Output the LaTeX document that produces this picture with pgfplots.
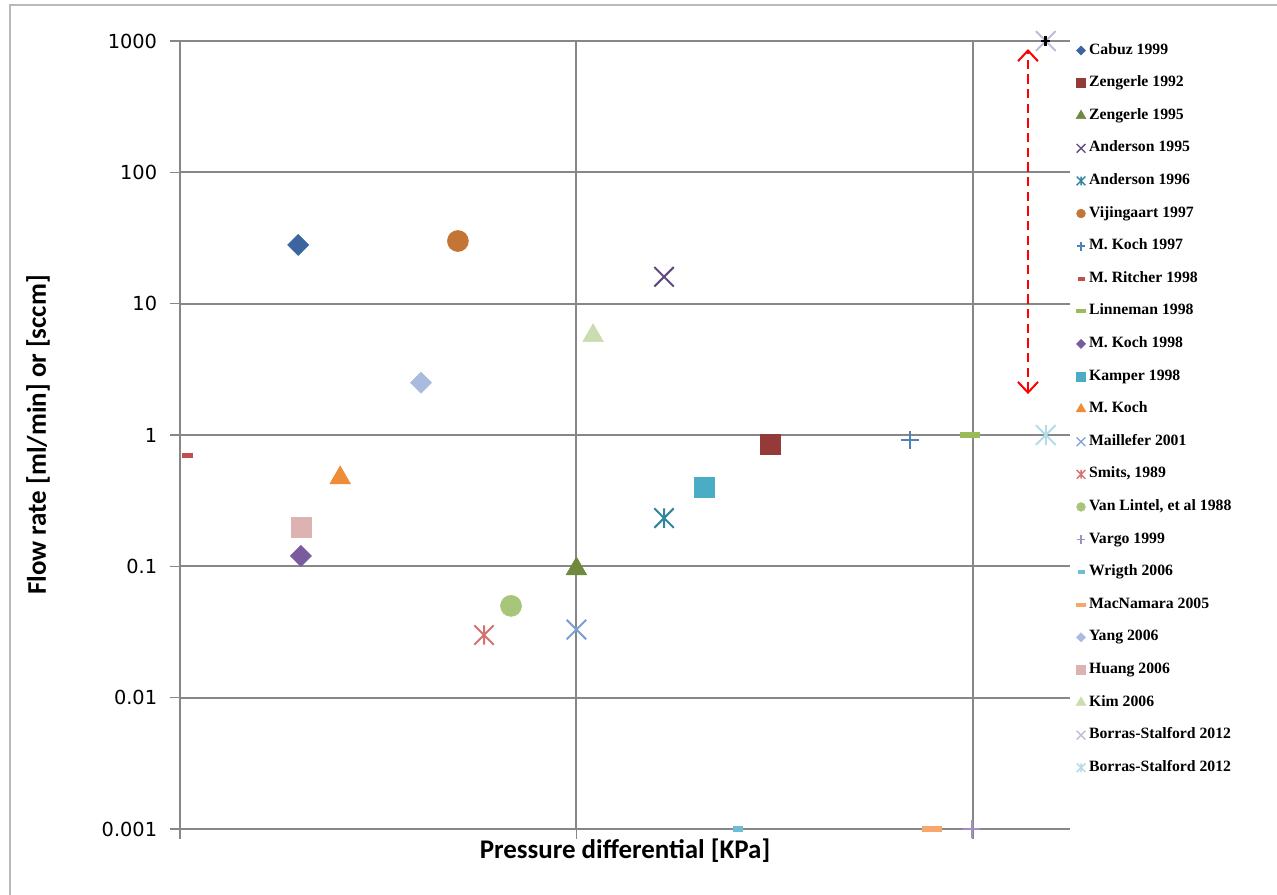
\documentclass[border=0pt]{standalone}
\usepackage{pgfplots}
\pgfplotsset{compat=1.18}
\usepackage{fontspec}
\setmainfont{Liberation Serif}
\newfontfamily\labfont{Carlito}
\newfontfamily\tickfont{DejaVu Sans}
\usetikzlibrary{arrows.meta}
\pgfdeclareplotmark{xstar}{%
  \pgfpathmoveto{\pgfqpoint{-.7071\pgfplotmarksize}{-.7071\pgfplotmarksize}}%
  \pgfpathlineto{\pgfqpoint{.7071\pgfplotmarksize}{.7071\pgfplotmarksize}}%
  \pgfpathmoveto{\pgfqpoint{-.7071\pgfplotmarksize}{.7071\pgfplotmarksize}}%
  \pgfpathlineto{\pgfqpoint{.7071\pgfplotmarksize}{-.7071\pgfplotmarksize}}%
  \pgfpathmoveto{\pgfqpoint{0pt}{-.7071\pgfplotmarksize}}%
  \pgfpathlineto{\pgfqpoint{0pt}{.7071\pgfplotmarksize}}%
  \pgfusepathqstroke}
\definecolor{gridgray}{HTML}{878787}
\definecolor{cA}{HTML}{3C65A0}
\definecolor{cB}{HTML}{943B3A}
\definecolor{cC}{HTML}{71893F}
\definecolor{cD}{HTML}{604A7B}
\definecolor{cE}{HTML}{31859C}
\definecolor{cF}{HTML}{C27535}
\definecolor{cG}{HTML}{4F81BD}
\definecolor{cH}{HTML}{C0504D}
\definecolor{cI}{HTML}{9BBB59}
\definecolor{cJ}{HTML}{7A5C9E}
\definecolor{cK}{HTML}{4BACC6}
\definecolor{cL}{HTML}{EE8C3A}
\definecolor{cM}{HTML}{7D9FD3}
\definecolor{cN}{HTML}{D37371}
\definecolor{cO}{HTML}{A8C67A}
\definecolor{cP}{HTML}{A08FC6}
\definecolor{cQ}{HTML}{6FBCD6}
\definecolor{cR}{HTML}{F9A56E}
\definecolor{cS}{HTML}{A9BCDF}
\definecolor{cT}{HTML}{DDB3B2}
\definecolor{cU}{HTML}{CADCB0}
\definecolor{cV}{HTML}{C2BAD6}
\definecolor{cW}{HTML}{B4DCE6}
\pgfplotsset{
  pdia/.style={only marks, mark=square*, mark options={rotate=45}, mark size=5.6pt},
  psq/.style={only marks, mark=square*, mark size=7.5pt},
  ptri/.style={only marks, mark=triangle*, mark size=9pt},
  pcross/.style={only marks, mark=x, mark size=10.3pt, line width=1.5pt},
  pstar/.style={only marks, mark=xstar, mark size=10.3pt, line width=1.5pt},
  pcirc/.style={only marks, mark=*, mark size=7.9pt},
  pplus/.style={only marks, mark=+, mark size=6.6pt, line width=1.5pt},
  ldia/.style={only marks, mark=square*, mark options={rotate=45}, mark size=2.4pt},
  lsq/.style={only marks, mark=square*, mark size=3.3pt},
  ltri/.style={only marks, mark=triangle*, mark size=4.2pt},
  lcross/.style={only marks, mark=x, mark size=4.6pt, line width=1pt},
  lstar/.style={only marks, mark=xstar, mark size=4.6pt, line width=1.1pt},
  lcirc/.style={only marks, mark=*, mark size=3.3pt},
  lplus/.style={only marks, mark=+, mark size=3.3pt, line width=1pt},
  ldash/.style={only marks, mark=-, mark size=3.6pt, line width=3pt},
}
\begin{document}
\begin{tikzpicture}
\useasboundingbox (-135pt,-49.5pt) rectangle (822.75pt,621.75pt);
\draw[gray!55, line width=1pt] (-127.5pt,-49.5pt) -- (-127.5pt,618pt) -- (822.75pt,618pt);
\begin{axis}[
  at={(0pt,0pt)}, anchor=south west, scale only axis,
  width=667.5pt, height=591pt,
  xmin=0, xmax=2.245, ymode=log, ymin=0.001, ymax=1000,
  xtick={0,1,2}, xticklabels={},
  ytick={0.001,0.01,0.1,1,10,100,1000},
  yticklabels={0.001,0.01,0.1,1,10,100,1000},
  yminorticks=false, xminorticks=false,
  axis lines=left, axis line style={draw=none},
  grid=major, major grid style={draw=gridgray, line width=1.5pt},
  tick align=outside, major tick length=7.5pt,
  tick style={draw=gridgray, line width=1.2pt},
  yticklabel style={font=\tickfont\fontsize{14.5}{16}\selectfont, inner sep=0pt, xshift=-9.5pt},
  xlabel={Pressure differential [KPa]},
  ylabel={Flow rate [ml/min] or [sccm]},
  xlabel style={font=\labfont\bfseries\fontsize{20.2}{22}\selectfont, at={(axis description cs:0.5,-0.0279)}, anchor=center},
  ylabel style={font=\labfont\bfseries\fontsize{20.2}{22}\selectfont, at={(axis description cs:-0.1596,0.5)}, anchor=center},
  clip=false,
  legend style={at={(rel axis cs:1.0064,0.9968)}, anchor=north west, draw=none, fill=none,
    inner sep=0pt, outer sep=0pt, row sep=13.95pt, column sep=2pt,
    font=\bfseries\fontsize{11.8}{12}\selectfont,
    nodes={inner sep=0pt, text height=8pt, text depth=2.5pt}},
  legend cell align=left,
  legend image code/.code={\path[draw=none,fill=none] (0pt,-3pt) rectangle (8pt,3pt); \draw[#1] plot coordinates {(4pt,0pt)};},
]
\addlegendimage{ldia, color=cA}\addlegendentry{Cabuz 1999}
\addlegendimage{lsq, color=cB}\addlegendentry{Zengerle 1992}
\addlegendimage{ltri, color=cC}\addlegendentry{Zengerle 1995}
\addlegendimage{lcross, color=cD}\addlegendentry{Anderson 1995}
\addlegendimage{lstar, color=cE}\addlegendentry{Anderson 1996}
\addlegendimage{lcirc, color=cF}\addlegendentry{Vijingaart 1997}
\addlegendimage{lplus, color=cG}\addlegendentry{M. Koch 1997}
\addlegendimage{ldash, color=cH, mark size=2.6pt}\addlegendentry{M. Ritcher 1998}
\addlegendimage{ldash, color=cI}\addlegendentry{Linneman 1998}
\addlegendimage{ldia, color=cJ}\addlegendentry{M. Koch 1998}
\addlegendimage{lsq, color=cK}\addlegendentry{Kamper 1998}
\addlegendimage{ltri, color=cL}\addlegendentry{M. Koch}
\addlegendimage{lcross, color=cM}\addlegendentry{Maillefer 2001}
\addlegendimage{lstar, color=cN}\addlegendentry{Smits, 1989}
\addlegendimage{lcirc, color=cO}\addlegendentry{Van Lintel, et al 1988}
\addlegendimage{lplus, color=cP}\addlegendentry{Vargo 1999}
\addlegendimage{ldash, color=cQ, mark size=2.6pt}\addlegendentry{Wrigth 2006}
\addlegendimage{ldash, color=cR}\addlegendentry{MacNamara 2005}
\addlegendimage{ldia, color=cS}\addlegendentry{Yang 2006}
\addlegendimage{lsq, color=cT}\addlegendentry{Huang 2006}
\addlegendimage{ltri, color=cU}\addlegendentry{Kim 2006}
\addlegendimage{lcross, color=cV}\addlegendentry{Borras-Stalford 2012}
\addlegendimage{lstar, color=cW}\addlegendentry{Borras-Stalford 2012}
% data
\addplot[pdia, color=cA, forget plot] coordinates {(0.298,28)};
\addplot[psq, color=cB, forget plot] coordinates {(1.488,0.85)};
\addplot[ptri, color=cC, forget plot] coordinates {(1.0,0.0955)};
\addplot[pcross, color=cD, forget plot] coordinates {(1.221,16)};
\addplot[pstar, color=cE, forget plot] coordinates {(1.221,0.233)};
\addplot[pcirc, color=cF, forget plot] coordinates {(0.701,30)};
\addplot[pplus, color=cG, forget plot] coordinates {(1.841,0.92)};
\addplot[only marks, mark=-, color=cH, mark size=4.1pt, line width=3.75pt, forget plot] coordinates {(0.018,0.70)};
\addplot[only marks, mark=-, color=cI, mark size=7.5pt, line width=4.5pt, forget plot] coordinates {(1.992,1.0)};
\addplot[pdia, color=cJ, forget plot] coordinates {(0.305,0.12)};
\addplot[psq, color=cK, forget plot] coordinates {(1.322,0.40)};
\addplot[ptri, color=cL, forget plot] coordinates {(0.404,0.471)};
\addplot[pcross, color=cM, forget plot] coordinates {(1.0,0.033)};
\addplot[pstar, color=cN, forget plot] coordinates {(0.767,0.030)};
\addplot[pcirc, color=cO, forget plot] coordinates {(0.835,0.05)};
\addplot[pplus, color=cP, mark size=6.4pt, forget plot] coordinates {(1.997,0.001)};
\addplot[only marks, mark=-, color=cQ, mark size=3.75pt, line width=4.5pt, forget plot] coordinates {(1.407,0.001)};
\addplot[only marks, mark=-, color=cR, mark size=7.5pt, line width=4.5pt, forget plot] coordinates {(1.897,0.001)};
\addplot[pdia, color=cS, forget plot] coordinates {(0.608,2.5)};
\addplot[psq, color=cT, forget plot] coordinates {(0.305,0.2)};
\addplot[ptri, color=cU, forget plot] coordinates {(1.042,5.7)};
\addplot[pcross, color=cV, mark size=10.5pt, forget plot] coordinates {(2.184,1000)};
\addplot[pstar, color=cW, mark size=10.5pt, forget plot] coordinates {(2.184,1.0)};
\addplot[only marks, mark=+, color=black, mark size=3.5pt, line width=2pt, forget plot] coordinates {(2.184,1000)};
\draw[red, line width=1.5pt, dash pattern=on 7pt off 4pt,
  {Straight Barb[length=8pt,width=15pt]}-{Straight Barb[length=8pt,width=15pt]}]
  (axis cs:2.139,2.05) -- (axis cs:2.139,868);
\end{axis}
\end{tikzpicture}
\end{document}
